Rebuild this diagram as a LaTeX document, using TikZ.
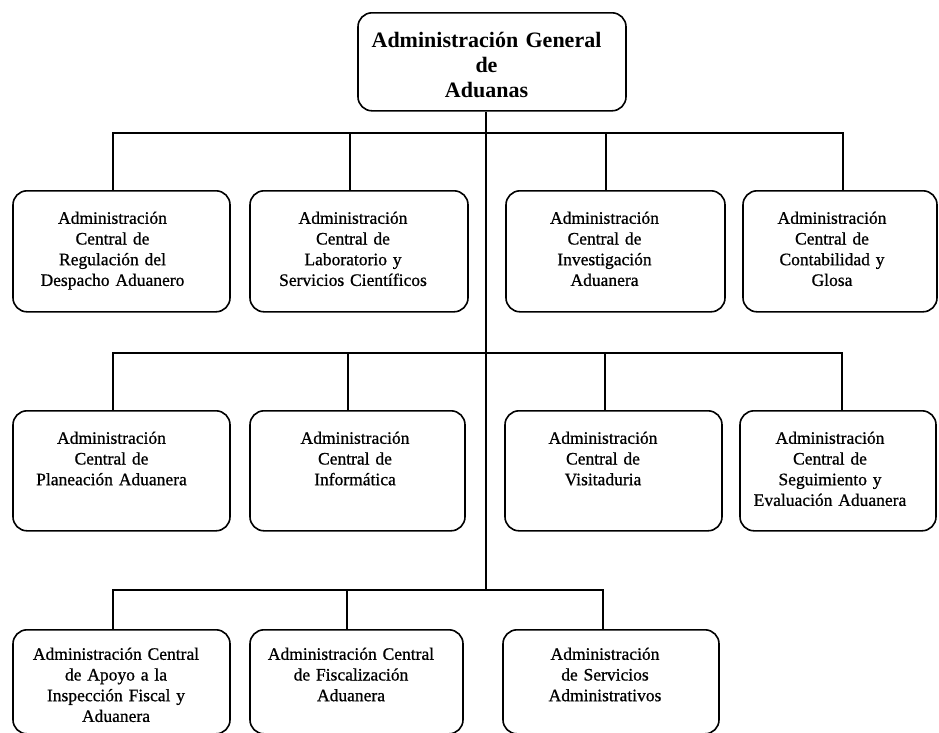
\documentclass[tikz,border=0pt]{standalone}
\usepackage{fontspec}
\setmainfont{Liberation Serif}
\newfontfamily\gruesa{Liberation Serif}[FakeBold=0.8]

\tikzset{
  corrido/.style={execute at begin node={\leftskip=0pt plus 1fil\rightskip=#1 plus 1fil\parfillskip=0pt}},
  corrido/.default=16pt,
  unidad/.style={draw, line width=1.6pt, rounded corners=14pt, anchor=north,
    align=center, inner sep=0pt, font=\gruesa\fontsize{17.5}{20.7}\selectfont},
  fila1/.style={unidad, text height=33pt, text depth=88pt},
  fila2/.style={unidad, text height=33pt, text depth=87pt},
  fila3/.style={unidad, text height=30pt, text depth=74pt},
  titular/.style={unidad, text height=35pt, text depth=63pt,
    font=\rmfamily\fontsize{22}{25}\selectfont\bfseries},
  enlace/.style={line width=1.3pt},
}

\begin{document}
\begin{tikzpicture}[x=1pt,y=-1pt]
\useasboundingbox (0,0) rectangle (939,732);

% administracion general
\node[titular, corrido=11pt, text width=268pt] (agA) at (492,12) {Administración General\\de\\Aduanas};

% primer nivel
\node[fila1, corrido=18pt, text width=217pt] (acRDA) at (121.5,190) {Administración\\Central de\\Regulación del\\Despacho Aduanero};
\node[fila1, corrido=12pt, text width=218pt] (acLSC) at (359,190) {Administración\\Central de\\Laboratorio y\\Servicios Científicos};
\node[fila1, corrido=22pt, text width=219pt] (acIA) at (615.5,190) {Administración\\Central de\\Investigación\\Aduanera};
\node[fila1, corrido, text width=194pt] (acCG) at (840,190) {Administración\\Central de\\Contabilidad y\\Glosa};

% segundo nivel
\node[fila2, corrido=20pt, text width=217pt] (acPA) at (121.5,410) {Administración\\Central de\\Planeación Aduanera};
\node[fila2, corrido=5pt, text width=215pt] (acI) at (357.5,410) {Administración\\Central de\\Informática};
\node[fila2, corrido=21pt, text width=217pt] (acV) at (613.5,410) {Administración\\Central de\\Visitaduria};
\node[fila2, corrido, text width=196pt] (acSEA) at (838,410) {Administración\\Central de\\Seguimiento y\\Evaluación Aduanera};

% tercer nivel
\node[fila3, corrido=11pt, text width=217pt] (acAIF) at (121.5,629) {Administración Central\\de Apoyo a la\\Inspección Fiscal y\\Aduanera};
\node[fila3, corrido=11pt, text width=213pt] (acFA) at (356.5,629) {Administración Central\\de Fiscalización\\Aduanera};
\node[fila3, corrido=12pt, text width=216pt] (aSA) at (611,629) {Administración\\de Servicios\\Administrativos};

% lineas
\coordinate (tronco) at ([xshift=-6pt]agA.south);
\coordinate (bus1) at (tronco |- 0,133);
\coordinate (bus2) at (tronco |- 0,353);
\coordinate (bus3) at (tronco |- 0,590);
\draw[enlace] (tronco) -- (bus3);

\draw[enlace] ([xshift=-8.5pt]acRDA.north) |- (bus1);
\draw[enlace] ([xshift=-9pt]acLSC.north) |- (bus1);
\draw[enlace] ([xshift=-9.5pt]acIA.north) |- (bus1);
\draw[enlace] ([xshift=3pt]acCG.north) |- (bus1);

\draw[enlace] ([xshift=-8.5pt]acPA.north) |- (bus2);
\draw[enlace] ([xshift=-9.5pt]acI.north) |- (bus2);
\draw[enlace] ([xshift=-8.5pt]acV.north) |- (bus2);
\draw[enlace] ([xshift=4pt]acSEA.north) |- (bus2);

\draw[enlace] ([xshift=-8.5pt]acAIF.north) |- (bus3);
\draw[enlace] ([xshift=-9.5pt]acFA.north) |- (bus3);
\draw[enlace] ([xshift=-8pt]aSA.north) |- (bus3);
\end{tikzpicture}
\end{document}
